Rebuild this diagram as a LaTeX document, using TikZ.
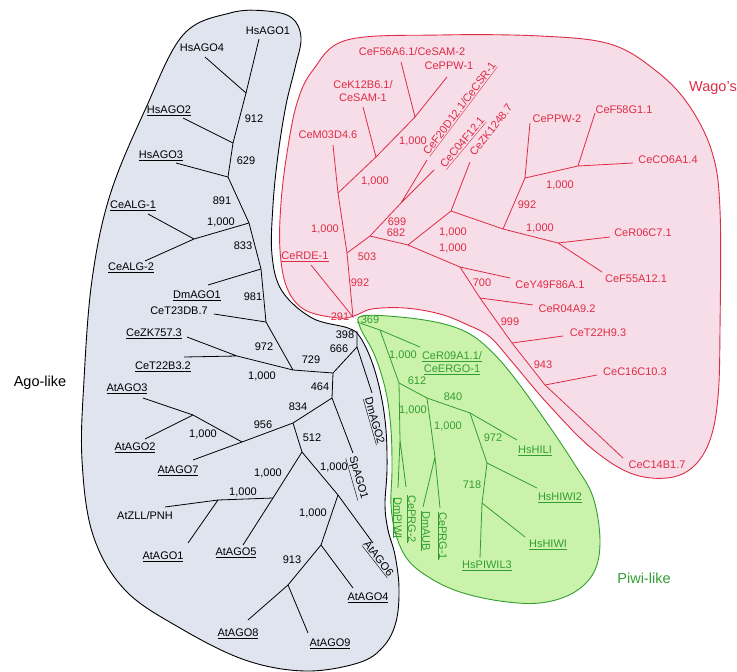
\documentclass[tikz,border=0pt]{standalone}
\usepackage{fontspec}
\setmainfont{Liberation Sans}
\usetikzlibrary{calc}

\definecolor{agofill}{RGB}{223,228,239}
\definecolor{wagofill}{RGB}{247,221,231}
\definecolor{wagored}{RGB}{222,44,70}
\definecolor{piwifill}{RGB}{202,242,170}
\definecolor{piwigreen}{RGB}{50,158,50}

\newcommand{\undl}[1]{\underline{#1}}
\newcommand{\agoshape}{plot[smooth cycle, tension=0.6] coordinates {(230,13) (267,11) (292,18) (301,38) (295,68) (286,105) (278,155) (273,205) (272,255) (282,291) (312,318) (348,328) (360,337) (372,362) (381,395) (386,430) (387,470) (385,505) (388,530) (395,555) (399,588) (396,622) (383,647) (358,663) (305,671) (245,660) (180,628) (125,590) (93,535) (82,460) (84,380) (92,280) (110,195) (145,110) (183,35)}}

\begin{document}
\begin{tikzpicture}[x=1pt, y=-1pt,
    lbl/.style={font=\fontsize{11}{13}\selectfont, inner sep=0pt},
    grp/.style={font=\fontsize{14.5}{16}\selectfont, inner sep=0pt},
    ago/.style={lbl, text=black},
    wago/.style={lbl, text=wagored},
    piwi/.style={lbl, text=piwigreen},
    agoline/.style={line width=0.8pt, black},
    wagoline/.style={line width=0.8pt, wagored},
    piwiline/.style={line width=0.8pt, piwigreen},
    gap/.style={preaction={draw=white, line width=4pt}}]
    \useasboundingbox (0,0) rectangle (737,672);

    % the three groups
    \fill[agofill] \agoshape;
    \draw[gap, fill=wagofill, draw=wagored, line width=0.9pt] plot[smooth cycle, tension=0.6] coordinates {(347,40) (440,35) (540,36) (610,44) (655,70) (688,104) (712,152) (720,210) (720,330) (718,397) (710,440) (693,467) (667,478) (630,473) (590,447) (547,403) (513,363) (490,337) (468,325) (440,314) (405,308) (372,309) (354,316) (338,318) (305,310) (287,288) (280,250) (281,203) (287,153) (297,103) (313,70)};
    \draw[gap, fill=piwifill, draw=piwigreen, line width=0.9pt] plot[smooth cycle, tension=0.6] coordinates {(362,316) (400,317) (440,323) (468,333) (490,350) (513,376) (547,423) (575,465) (593,497) (600,540) (594,572) (573,593) (540,603) (500,601) (460,592) (430,578) (408,560) (396,535) (391,505) (392,470) (391,430) (386,392) (375,356) (360,327)};
    \draw[line width=0.9pt] \agoshape;

    \node[grp, text=black] (agolike) at (40,383) {Ago-like};
    \node[grp, text=wagored, anchor=west] (wagos) at (689,88) {Wago's};
    \node[grp, text=piwigreen] (piwilike) at (644,578) {Piwi-like};

    % Ago-like tree
    \coordinate (aR) at (357,331);
    \coordinate (a1) at (246,93);
    \coordinate (a2) at (233,143);
    \coordinate (a3) at (228,177);
    \coordinate (a4) at (249,223);
    \coordinate (a5) at (194,239);
    \coordinate (a6) at (261,269);
    \coordinate (a7) at (266,322);
    \coordinate (a8) at (237,356);
    \coordinate (a9) at (293,370);
    \coordinate (a10) at (333,373);
    \coordinate (a11) at (357,347);
    \coordinate (a12) at (332,398);
    \coordinate (a13) at (293,423);
    \coordinate (a14) at (242,442);
    \coordinate (a15) at (193,415);
    \coordinate (a16) at (302,452);
    \coordinate (a17) at (273,498);
    \coordinate (a18) at (218,500);
    \coordinate (a19) at (338,495);
    \coordinate (a20) at (321,545);
    \coordinate (a21) at (288,585);

    \coordinate (eHsAGO1) at (259,39);
    \coordinate (eHsAGO4) at (205,57);
    \coordinate (eHsAGO2) at (183,118);
    \coordinate (eHsAGO3) at (176,163);
    \coordinate (eCeALG1) at (148,214);
    \coordinate (eCeALG2) at (145,261);
    \coordinate (eDmAGO1) at (208,285);
    \coordinate (eCeT23DB) at (214,314);
    \coordinate (eCeZK757) at (187,337);
    \coordinate (eCeT22B3) at (184,357);
    \coordinate (eDmAGO2) at (372,393);
    \coordinate (eSpAGO1) at (353,453);
    \coordinate (eAtAGO7) at (193,460);
    \coordinate (eAtAGO3) at (143,398);
    \coordinate (eAtAGO2) at (145,439);
    \coordinate (eAtAGO5) at (243,545);
    \coordinate (eAtZLL) at (165,507);
    \coordinate (eAtAGO1) at (188,543);
    \coordinate (eAtAGO6) at (373,543);
    \coordinate (eAtAGO4) at (353,588);
    \coordinate (eAtAGO8) at (248,620);
    \coordinate (eAtAGO9) at (308,633);

    \draw[agoline] (aR) -- (a11) -- (eDmAGO2);
    \draw[agoline] (a11) -- (a10) -- (a9) -- (a7) -- (a6) -- (a4) -- (a3) -- (a2) -- (a1) -- (eHsAGO1);
    \draw[agoline] (a1) -- (eHsAGO4);
    \draw[agoline] (a2) -- (eHsAGO2);
    \draw[agoline] (a3) -- (eHsAGO3);
    \draw[agoline] (eCeALG1) -- (a5) -- (eCeALG2) (a5) -- (a4);
    \draw[agoline] (a6) -- (eDmAGO1);
    \draw[agoline] (a7) -- (eCeT23DB);
    \draw[agoline] (eCeZK757) -- (a8) -- (eCeT22B3) (a8) -- (a9);
    \draw[agoline] (a10) -- (a12) -- (eSpAGO1);
    \draw[agoline] (a12) -- (a13) -- (a14) -- (eAtAGO7);
    \draw[agoline] (eAtAGO3) -- (a15) -- (eAtAGO2) (a15) -- (a14);
    \draw[agoline] (a13) -- (a16) -- (a17) -- (eAtAGO5);
    \draw[agoline] (eAtZLL) -- (a18) -- (eAtAGO1) (a18) -- (a17);
    \draw[agoline] (a16) -- (a19) -- (eAtAGO6);
    \draw[agoline] (a19) -- (a20) -- (eAtAGO4);
    \draw[agoline] (a20) -- (a21) (eAtAGO8) -- (a21) -- (eAtAGO9);

    \node[ago] (HsAGO1) at (268,31) {HsAGO1};
    \node[ago] (HsAGO4) at (202,48) {HsAGO4};
    \node[ago] (HsAGO2) at (169,111) {\undl{HsAGO2}};
    \node[ago] (HsAGO3) at (161,156) {\undl{HsAGO3}};
    \node[ago] (CeALG1) at (133,206) {\undl{CeALG-1}};
    \node[ago] (CeALG2) at (131,268) {\undl{CeALG-2}};
    \node[ago] (DmAGO1) at (197,296) {\undl{DmAGO1}};
    \node[ago] (CeT23DB) at (179,311) {CeT23DB.7};
    \node[ago] (CeZK757) at (154,334) {\undl{CeZK757.3}};
    \node[ago] (CeT22B3) at (163,367) {\undl{CeT22B3.2}};
    \node[ago, rotate=-74] (DmAGO2) at (374,421) {\undl{DmAGO2}};
    \node[ago, rotate=-74] (SpAGO1) at (357,478) {\undl{SpAGO1}};
    \node[ago] (AtAGO3) at (127,389) {\undl{AtAGO3}};
    \node[ago] (AtAGO2) at (135,448) {\undl{AtAGO2}};
    \node[ago] (AtAGO7) at (178,471) {\undl{AtAGO7}};
    \node[ago] (AtZLL) at (145,516) {AtZLL/PNH};
    \node[ago] (AtAGO1) at (163,557) {\undl{AtAGO1}};
    \node[ago] (AtAGO5) at (236,553) {\undl{AtAGO5}};
    \node[ago, rotate=-52] (AtAGO6) at (378,559) {\undl{AtAGO6}};
    \node[ago] (AtAGO4) at (368,598) {\undl{AtAGO4}};
    \node[ago] (AtAGO8) at (238,634) {\undl{AtAGO8}};
    \node[ago] (AtAGO9) at (330,644) {\undl{AtAGO9}};

    \node[ago] (sa912) at (254,119) {912};
    \node[ago] (sa629) at (246,161) {629};
    \node[ago] (sa891) at (222,201) {891};
    \node[ago] (sa1000a) at (221,222) {1,000};
    \node[ago] (sa833) at (243,246) {833};
    \node[ago] (sa981) at (253,297) {981};
    \node[ago] (sa972) at (264,347) {972};
    \node[ago] (sa729) at (311,360) {729};
    \node[ago] (sa1000b) at (262,376) {1,000};
    \node[ago] (sa666) at (339,349) {666};
    \node[ago] (sa398) at (345,335) {398};
    \node[ago] (sa464) at (320,387) {464};
    \node[ago] (sa834) at (298,407) {834};
    \node[ago] (sa956) at (263,425) {956};
    \node[ago] (sa1000c) at (203,434) {1,000};
    \node[ago] (sa512) at (312,438) {512};
    \node[ago] (sa1000d) at (268,473) {1,000};
    \node[ago] (sa1000e) at (243,492) {1,000};
    \node[ago] (sa1000f) at (334,467) {1,000};
    \node[ago] (sa1000g) at (313,513) {1,000};
    \node[ago] (sa913) at (292,560) {913};

    % Wago's tree
    \coordinate (rR) at (353,317);
    \coordinate (r1) at (347,253);
    \coordinate (r2) at (370,236);
    \coordinate (r3) at (408,245);
    \coordinate (r4) at (460,267);
    \coordinate (r5) at (451,211);
    \coordinate (r6) at (558,243);
    \coordinate (r7) at (503,229);
    \coordinate (r8) at (525,178);
    \coordinate (r9) at (578,166);
    \coordinate (r10) at (338,193);
    \coordinate (r11) at (376,157);
    \coordinate (r12) at (415,117);
    \coordinate (r13) at (401,203);
    \coordinate (r14) at (480,298);
    \coordinate (r15) at (512,343);
    \coordinate (r16) at (545,385);

    \coordinate (eCeRDE) at (311,265);
    \coordinate (eCeM03) at (333,145);
    \coordinate (eCeK12) at (363,107);
    \coordinate (eCeF56) at (401,62);
    \coordinate (eCePPW1) at (447,77);
    \coordinate (eCeF20) at (427,160);
    \coordinate (eCeC04) at (434,170);
    \coordinate (eCeZK12) at (470,162);
    \coordinate (eCePPW2) at (530,123);
    \coordinate (eCeF58) at (595,113);
    \coordinate (eCeC06) at (633,163);
    \coordinate (eCeR06) at (610,237);
    \coordinate (eCeF55) at (602,272);
    \coordinate (eCeY49) at (510,278);
    \coordinate (eCeR04) at (533,305);
    \coordinate (eCeT22H) at (563,336);
    \coordinate (eCeC16) at (597,375);
    \coordinate (eCeC14) at (623,458);

    \draw[wagoline] (eCeRDE) -- (rR) -- (r1) -- (r10) -- (eCeM03);
    \draw[wagoline] (r10) -- (r11) -- (r12) -- (eCePPW1) (r11) -- (eCeK12) (r12) -- (eCeF56);
    \draw[wagoline] (r1) -- (r2) -- (r13) -- (eCeC04) (r13) -- (eCeF20);
    \draw[wagoline] (r2) -- (r3) -- (r4) -- (eCeY49);
    \draw[wagoline] (r3) -- (r5) -- (eCeZK12) (r5) -- (r7) -- (r6) -- (eCeR06) (r6) -- (eCeF55);
    \draw[wagoline] (r7) -- (r8) -- (eCePPW2) (r8) -- (r9) -- (eCeC06) (r9) -- (eCeF58);
    \draw[wagoline] (r4) -- (r14) -- (r15) -- (r16) -- (eCeC14);
    \draw[wagoline] (r14) -- (eCeR04) (r15) -- (eCeT22H) (r16) -- (eCeC16);

    \node[wago] (CeRDE) at (305,257) {\undl{CeRDE-1}};
    \node[wago] (CeM03) at (328,135) {CeM03D4.6};
    \node[wago, align=center] (CeK12) at (363,91) {CeK12B6.1/\\CeSAM-1};
    \node[wago] (CeF56) at (412,52) {CeF56A6.1/CeSAM-2};
    \node[wago] (CePPW1) at (449,66) {CePPW-1};
    \node[wago, rotate=53] (CeF20) at (460,109) {\undl{CeF20D12.1/CeCSR-1}};
    \node[wago, rotate=50] (CeC04) at (463,143) {\undl{CeC04F12.1}};
    \node[wago, rotate=52] (CeZK12) at (491,130) {CeZK1248.7};
    \node[wago] (CePPW2) at (557,119) {CePPW-2};
    \node[wago] (CeF58) at (624,110) {CeF58G1.1};
    \node[wago] (CeC06) at (668,160) {CeCO6A1.4};
    \node[wago] (CeR06) at (643,233) {CeR06C7.1};
    \node[wago] (CeF55) at (636,279) {CeF55A12.1};
    \node[wago] (CeY49) at (550,285) {CeY49F86A.1};
    \node[wago] (CeR04) at (567,309) {CeR04A9.2};
    \node[wago] (CeT22H) at (598,333) {CeT22H9.3};
    \node[wago] (CeC16) at (635,372) {CeC16C10.3};
    \node[wago] (CeC14) at (657,465) {CeC14B1.7};

    \node[wago] (sr291) at (340,317) {291};
    \node[wago] (sr992a) at (360,283) {992};
    \node[wago] (sr503) at (367,257) {503};
    \node[wago] (sr1000a) at (325,229) {1,000};
    \node[wago] (sr1000b) at (375,181) {1,000};
    \node[wago] (sr1000c) at (413,141) {1,000};
    \node[wago] (sr699) at (397,222) {699};
    \node[wago] (sr682) at (396,233) {682};
    \node[wago] (sr1000d) at (453,232) {1,000};
    \node[wago] (sr1000e) at (453,248) {1,000};
    \node[wago] (sr992b) at (527,205) {992};
    \node[wago] (sr1000f) at (560,185) {1,000};
    \node[wago] (sr1000g) at (540,228) {1,000};
    \node[wago] (sr700) at (482,283) {700};
    \node[wago] (sr999) at (510,322) {999};
    \node[wago] (sr943) at (543,365) {943};

    % Piwi-like tree
    \coordinate (gR) at (357,322);
    \coordinate (g0) at (380,330);
    \coordinate (g1) at (399,383);
    \coordinate (g2) at (400,440);
    \coordinate (g3) at (427,398);
    \coordinate (g4) at (470,413);
    \coordinate (g5) at (435,457);
    \coordinate (g6) at (487,463);
    \coordinate (g7) at (482,503);

    \coordinate (eCeR09) at (420,347);
    \coordinate (eDmPIWI) at (398,488);
    \coordinate (eCePRG2) at (406,487);
    \coordinate (eDmAUB) at (423,507);
    \coordinate (eCePRG1) at (440,508);
    \coordinate (eHsHILI) at (517,440);
    \coordinate (eHsHIWI2) at (537,488);
    \coordinate (eHsHIWI) at (525,537);
    \coordinate (eHsPIWIL3) at (480,558);

    \draw[piwiline] (gR) -- (g0) -- (eCeR09);
    \draw[piwiline] (g0) -- (g1) -- (g2) -- (eDmPIWI) (g2) -- (eCePRG2);
    \draw[piwiline] (g1) -- (g3) -- (g4) -- (eHsHILI);
    \draw[piwiline] (g3) -- (g5) -- (eDmAUB) (g5) -- (eCePRG1);
    \draw[piwiline] (g4) -- (g6) -- (eHsHIWI2) (g6) -- (g7) -- (eHsHIWI) (g7) -- (eHsPIWIL3);

    \node[piwi, align=center] (CeR09) at (452,363) {\undl{CeR09A1.1/}\\\undl{CeERGO-1}};
    \node[piwi, rotate=-90] (DmPIWI) at (397,518) {\undl{DmPIWI}};
    \node[piwi, rotate=-90] (CePRG2) at (411,519) {\undl{CePRG-2}};
    \node[piwi, rotate=-90] (DmAUB) at (425,531) {\undl{DmAUB}};
    \node[piwi, rotate=-90] (CePRG1) at (442,536) {\undl{CePRG-1}};
    \node[piwi] (HsHILI) at (535,451) {\undl{HsHILI}};
    \node[piwi] (HsHIWI2) at (560,498) {\undl{HsHIWI2}};
    \node[piwi] (HsHIWI) at (548,545) {\undl{HsHIWI}};
    \node[piwi] (HsPIWIL3) at (487,566) {\undl{HsPIWIL3}};

    \node[piwi] (sg369) at (370,320) {369};
    \node[piwi] (sg1000a) at (403,355) {1,000};
    \node[piwi] (sg612) at (417,381) {612};
    \node[piwi] (sg840) at (453,397) {840};
    \node[piwi] (sg1000b) at (413,410) {1,000};
    \node[piwi] (sg1000c) at (448,426) {1,000};
    \node[piwi] (sg972) at (493,438) {972};
    \node[piwi] (sg718) at (472,485) {718};
\end{tikzpicture}
\end{document}
